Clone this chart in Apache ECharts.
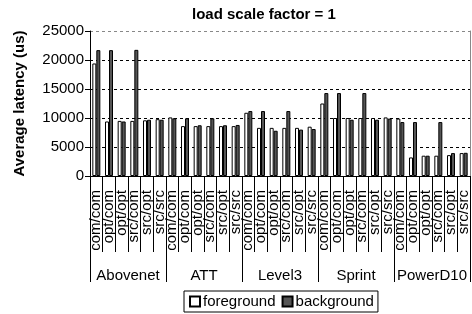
<!DOCTYPE html>
<html>
<head>
<meta charset="utf-8">
<script src="https://cdn.jsdelivr.net/npm/echarts@6/dist/echarts.min.js"></script>
<style>
  html, body { margin: 0; padding: 0; background: #fff; }
  #chart { width: 472px; height: 314px; }
</style>
</head>
<body>
<div id="chart"></div>
<script>
// ===== data =====
const groups = ['Abovenet', 'ATT', 'Level3', 'Sprint', 'PowerD10']
const modes = ['com/com', 'opt/com', 'opt/opt', 'src/com', 'src/opt', 'src/src']
const yTicks = [0, 5000, 10000, 15000, 20000, 25000]

const foreground = [
  19400, 9400, 9500, 9500, 9600, 9800,
  10100, 8600, 8600, 8600, 8600, 8600,
  10900, 8300, 8300, 8300, 8300, 8500,
  12500, 10000, 10000, 10000, 10000, 10100,
  9900, 3200, 3500, 3500, 3600, 3950
]
const background = [
  21700, 21700, 9400, 21750, 9700, 9700,
  9950, 9950, 8750, 9950, 8750, 8800,
  11200, 11200, 7800, 11200, 8000, 8100,
  14300, 14300, 9700, 14300, 9700, 9900,
  9300, 9300, 3500, 9300, 3950, 4000
]

// one category per network/mode pair
const categories = []
groups.forEach(() => modes.forEach(m => categories.push(m)))

const FONT = 'Liberation Sans, Arial, sans-serif'

const chart = echarts.init(document.getElementById('chart'))

chart.setOption({
  animation: false,
  textStyle: { fontFamily: FONT, color: '#000' },
  title: {
    text: 'load scale factor = 1',
    left: 187,
    top: 2,
    textStyle: { fontFamily: FONT, fontSize: 15, fontWeight: 'bold', color: '#000' }
  },
  grid: { left: 90, right: 2, top: 31, bottom: 138 },
  legend: {
    data: ['foreground', 'background'],
    left: 184,
    top: 291,
    itemWidth: 10,
    itemHeight: 10,
    itemGap: 6,
    padding: [3, 4, 3, 5],
    borderColor: '#000',
    borderWidth: 1,
    borderRadius: 0,
    icon: 'rect',
    textStyle: { fontFamily: FONT, fontSize: 15, color: '#000', padding: [0, 0, 0, -2] }
  },
  xAxis: [
    {
      type: 'category',
      data: categories,
      axisLine: { show: true, lineStyle: { color: '#000', width: 1 } },
      axisTick: { show: true, interval: 0, length: 76, lineStyle: { color: '#000' } },
      axisLabel: {
        interval: 0,
        rotate: 90,
        margin: 14,
        fontSize: 15,
        fontFamily: FONT,
        color: '#000'
      }
    },
    {
      type: 'category',
      data: groups,
      position: 'bottom',
      axisLine: { show: false },
      axisTick: { show: true, interval: 0, length: 106, lineStyle: { color: '#000' } },
      axisLabel: { interval: 0, margin: 92, fontSize: 15, fontFamily: FONT, color: '#000' }
    }
  ],
  yAxis: [
    {
      type: 'value',
      min: yTicks[0],
      max: yTicks[yTicks.length - 1],
      interval: yTicks[1] - yTicks[0],
      name: 'Average latency (us)',
      nameLocation: 'middle',
      nameGap: 63,
      nameTextStyle: { fontFamily: FONT, fontSize: 15, fontWeight: 'bold', color: '#000' },
      axisLine: { show: true, lineStyle: { color: '#000' } },
      axisTick: { show: true, length: 5, lineStyle: { color: '#000' } },
      axisLabel: {
        margin: 6,
        fontSize: 15,
        fontFamily: FONT,
        color: '#000',
        formatter: v => String(v)
      },
      splitLine: {
        lineStyle: {
          color: ['#000', '#000', '#000', '#000', '#000', '#888'],
          type: [3, 3],
          width: 1
        }
      }
    },
    {
      type: 'value',
      position: 'right',
      min: yTicks[0],
      max: yTicks[yTicks.length - 1],
      axisLine: { show: true, lineStyle: { color: '#888' } },
      axisTick: { show: false },
      axisLabel: { show: false },
      splitLine: { show: false }
    }
  ],
  series: [
    {
      name: 'foreground',
      type: 'bar',
      data: foreground,
      barWidth: 4,
      barGap: '0%',
      itemStyle: { color: '#fff', borderColor: '#000', borderWidth: 1 }
    },
    {
      name: 'background',
      type: 'bar',
      data: background,
      barWidth: 4,
      barGap: '0%',
      itemStyle: { color: '#555', borderColor: '#000', borderWidth: 1 }
    }
  ]
})
</script>
</body>
</html>
